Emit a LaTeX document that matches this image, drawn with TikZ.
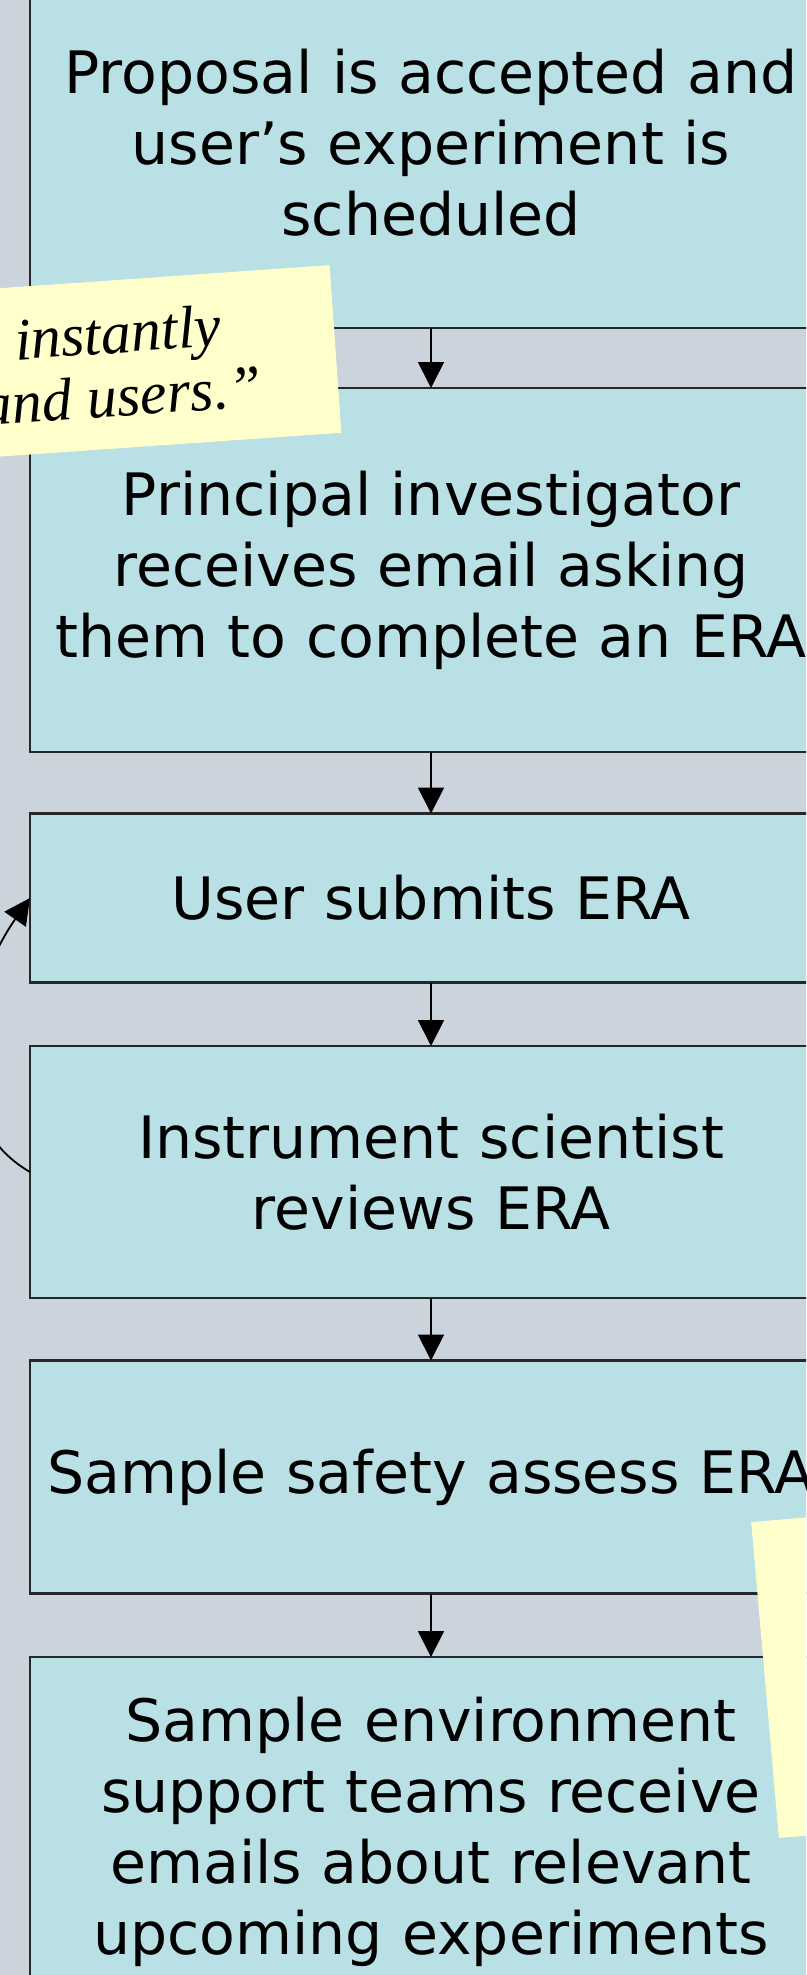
\documentclass[tikz,border=0pt]{standalone}
\usepackage{fontspec}
\setmainfont{DejaVu Sans}
\newfontfamily\notefont{Liberation Serif}
\usetikzlibrary{arrows.meta}

\definecolor{page_gray}{HTML}{CBD3DC}
\definecolor{box_blue}{HTML}{B9E0E4}
\definecolor{note_yellow}{HTML}{FFFFCC}
\definecolor{line_dark}{HTML}{262626}

\begin{document}
\begin{tikzpicture}[x=1pt, y=1pt]


\tikzstyle{box_style} = [rectangle, draw=line_dark, fill=box_blue, line width=2.2pt, minimum width=802pt, text width=800pt, align=center, inner sep=0pt, outer sep=0pt, font=\fontsize{58.5pt}{71pt}\selectfont]

\tikzstyle{arrow_style} = [draw=black, line width=1.8pt, -{Triangle[length=26pt, width=26pt]}]

\tikzstyle{note_style} = [rectangle, fill=note_yellow, inner sep=0pt, align=center, font=\notefont\itshape\fontsize{60pt}{63pt}\selectfont]


\useasboundingbox (0,0) rectangle (806,-1975);
\clip (0,0) rectangle (806,-1975);
\fill[page_gray] (0,0) rectangle (806,-1975);

\node[box_style, minimum height=370pt] (proposal) at (431, -143) {Proposal is accepted and\\ user’s experiment is\\ scheduled};
\node[box_style, minimum height=364pt] (invite) at (431, -570) {Principal investigator\\ receives email asking\\ them to complete an ERA};
\node[box_style, minimum height=169pt] (submit) at (431, -898) {User submits ERA};
\node[box_style, minimum height=252pt] (review) at (431, -1172) {Instrument scientist\\ reviews ERA};
\node[box_style, minimum height=233pt] (safety) at (431, -1477) {Sample safety assess ERA};
\node[box_style, minimum height=350pt] (support) at (431, -1832) {Sample environment\\ support teams receive\\ emails about relevant\\ upcoming experiments};


\draw[arrow_style]  (proposal) edge (invite);
\draw[arrow_style]  (invite) edge (submit);
\draw[arrow_style]  (submit) edge (review);
\draw[arrow_style]  (review) edge (safety);
\draw[arrow_style]  (safety) edge (support);

\draw[arrow_style]  (review.west) to[out=150, in=235] (submit.west);


\node[note_style, rotate=4, minimum width=432pt, minimum height=168pt] (quote_note) at (120, -364) {instantly\\ and users.”};
\node[note_style, rotate=5, anchor=north west, minimum width=300pt, minimum height=317pt] (side_note) at (751, -1522) {};


\end{tikzpicture}
\end{document}
